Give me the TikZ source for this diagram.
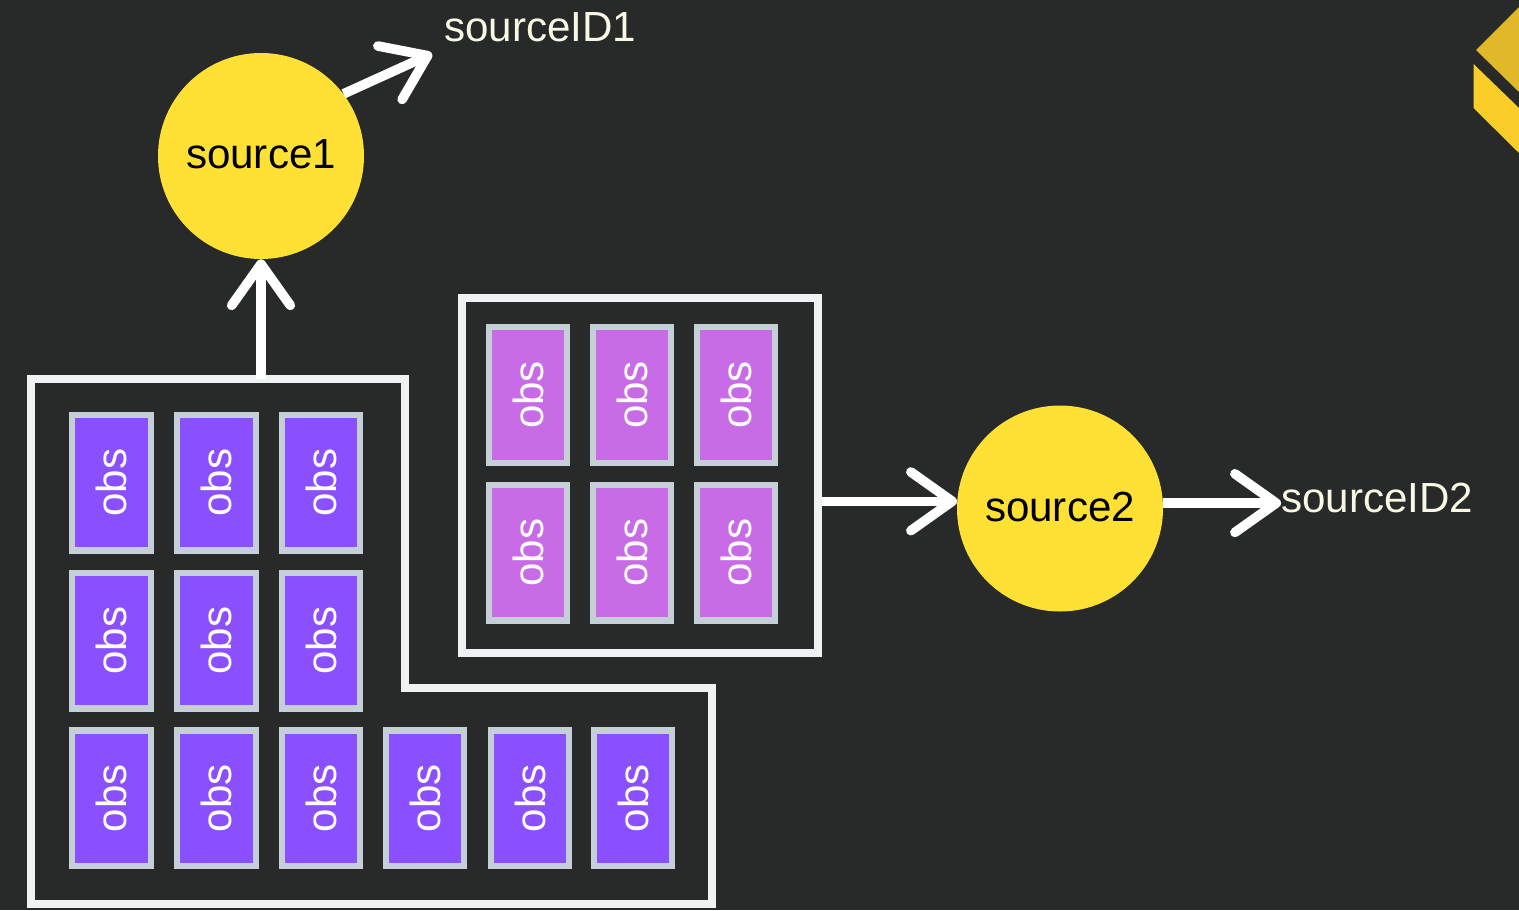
\documentclass[tikz,border=0pt]{standalone}
\usepackage{fontspec}
\setmainfont{Liberation Sans}
\usetikzlibrary{arrows.meta}
\definecolor{bgdark}{RGB}{40,42,41}
\definecolor{logodark}{RGB}{225,185,40}
\definecolor{logolight}{RGB}{250,205,40}
\definecolor{obsblue}{RGB}{138,80,255}
\definecolor{obspink}{RGB}{200,107,230}
\definecolor{obsedge}{RGB}{197,207,216}
\definecolor{groupedge}{RGB}{239,241,243}
\definecolor{srcyellow}{RGB}{255,225,53}
\definecolor{idtext}{RGB}{248,248,228}
\tikzset{
  bigtext/.style={font=\fontsize{31.6pt}{36pt}\selectfont},
  obsbox/.style={draw=obsedge,line width=4.7pt,rotate=90,minimum width=101.6pt,minimum height=58.9pt,inner sep=0pt,text=white,bigtext},
  srcnode/.style={circle,fill=srcyellow,minimum size=154.5pt,inner sep=0pt,text=black,bigtext,text depth=3pt},
  idlabel/.style={anchor=base west,inner sep=0pt,text=idtext,bigtext},
  grouppath/.style={draw=groupedge,line width=6.3pt,miter limit=10},
  flow/.style={draw=white,line width=7.2pt,-{Straight Barb[length=31pt,width=44pt,round]}},
}
\begin{document}
\begin{tikzpicture}[x=0.75pt,y=-0.75pt]
\useasboundingbox (0,0) rectangle (1519,910);
\fill[bgdark] (0,0) rectangle (1519,910);
% logo
\fill[logodark] (1476,50) -- (1519,7) -- (1519,92) -- cycle;
\fill[logolight] (1473.5,64) -- (1519,108) -- (1519,153) -- (1473.5,108) -- cycle;
% groups
\draw[grouppath] (31,379) -- (405,379) -- (405,688) -- (712,688) -- (712,904) -- (31,904) -- cycle;
\node[grouppath,draw,minimum width=267pt,minimum height=266.6pt,inner sep=0pt,anchor=north west] (grouptwo) at (457.5,293.5) {};
\coordinate (groupone) at (261,379);
% obs group one
\foreach \n/\x/\y in {a1/111.5/482.7,a2/216.5/482.7,a3/321/482.7,
  b1/111.5/640.7,b2/216.5/640.7,b3/321/640.7,
  c1/111.5/798.3,c2/216.5/798.3,c3/321/798.3,c4/425/798.3,c5/530/798.3,c6/633/798.3}
  \node[obsbox,fill=obsblue] (\n) at (\x,\y) {obs};
% obs group two
\foreach \n/\x/\y in {d1/528/395,d2/632/395,d3/736/395,
  e1/528/552.7,e2/632/552.7,e3/736/552.7}
  \node[obsbox,fill=obspink] (\n) at (\x,\y) {obs};
% sources
\node[srcnode] (source1) at (261,156) {source1};
\node[srcnode] (source2) at (1060,508.5) {source2};
% labels
\node[idlabel] (sourceID1) at (444,41) {sourceID1};
\node[idlabel] (sourceID2) at (1281,512) {sourceID2};
% connectors
\draw[flow] (groupone) -- (source1.south);
\draw[flow] (source1.37) -- ([xshift=-9pt,yshift=-9.5pt]sourceID1.base west);
\draw[flow] (grouptwo.east |- source2.176.4) -- (source2.176.4);
\draw[flow] (source2.3.6) -- (sourceID2.west |- source2.3.6);
\end{tikzpicture}
\end{document}
